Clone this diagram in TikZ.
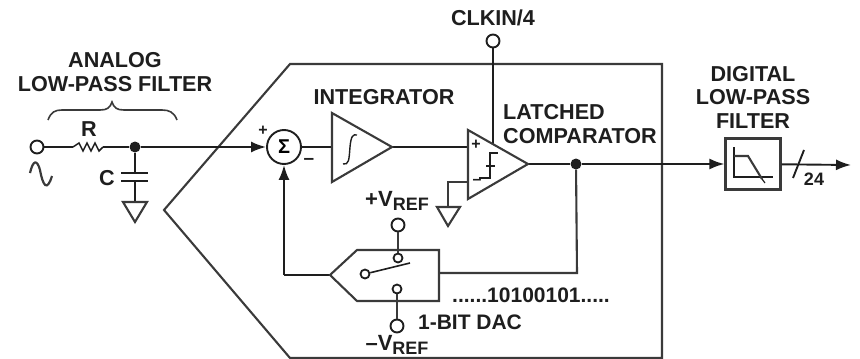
\documentclass[tikz,border=0pt]{standalone}
\usepackage{fontspec}
\setmainfont{Liberation Sans}
\usetikzlibrary{arrows.meta,decorations.pathreplacing}
\definecolor{ink}{HTML}{1E1E1E}
\definecolor{soft}{HTML}{3A3A3A}
\tikzset{
  wire/.style={draw=ink,line width=1.9pt},
  edgeline/.style={draw=soft,line width=2.1pt,line join=miter},
  sig/.style={wire,-{Latex[length=15pt,width=11pt]}},
  term/.style={circle,draw=ink,line width=1.9pt,fill=white,minimum size=13pt,inner sep=0pt},
  smallterm/.style={circle,draw=ink,line width=1.8pt,fill=white,minimum size=9pt,inner sep=0pt},
  dot/.style={circle,fill=ink,minimum size=11pt,inner sep=0pt},
  lab/.style={font=\fontsize{21.6}{23.5}\selectfont\bfseries,text=ink,inner sep=0pt,align=center},
  gnd/.style={edgeline,line join=miter},
}
\begin{document}
\begin{tikzpicture}[x=1pt,y=-1pt]
\useasboundingbox (0,0) rectangle (860,359);
% outer housing
\draw[edgeline] (358,358) -- (290,358) -- (164,210) -- (290,64) -- (662,64) -- (662,358) -- (290,358);
% coordinates
\coordinate (intL) at (332,147);
\coordinate (intR) at (392,147);
\coordinate (cmpP) at (468,147);
\coordinate (cmpN) at (468,182);
\coordinate (cmpR) at (528,164);
\coordinate (cmpTop) at (493,144);
\coordinate (dacR) at (439,273);
\coordinate (dacL) at (330,275);
\coordinate (fbCorner) at (284,275);
\coordinate (jnCorner) at (577,273);
\coordinate (resL) at (73,147);
\coordinate (resR) at (103,147);
\coordinate (capT) at (135,173);
\coordinate (capB) at (135,181);
\coordinate (gndC) at (135,202);
\coordinate (gndG) at (448,207);
\coordinate (gndCorner) at (448,182);
\coordinate (outEnd) at (851,165);
% terminals and junctions
\node[term] (vin) at (37,147) {};
\node[dot] (j1) at (135,147) {};
\node[circle,draw=ink,line width=1.9pt,fill=white,minimum size=34pt,inner sep=0pt,font=\fontsize{20}{20}\selectfont\bfseries] (sum) at (284,147) {Σ};
\node[term] (clk) at (493,41) {};
\node[dot] (j2) at (576,164) {};
\node[draw=soft,line width=2.2pt,minimum width=55pt,minimum height=51pt,inner sep=0pt] (dlpf) at (753,164) {};
\node[term] (vrefp) at (398,225) {};
\node[smallterm] (swp) at (398,258) {};
\node[smallterm] (pivot) at (365,274) {};
\node[smallterm] (swn) at (397,289) {};
\node[term] (vrefn) at (397,326) {};
% connectors
\draw[wire] (vin) -- (resL);
\draw[wire,line width=1.5pt] (resL) -- (79,143) -- (83,151) -- (87,143) -- (91,151) -- (95,143) -- (99,151) -- (resR);
\draw[wire] (resR) -- (j1);
\draw[sig] (j1) -- (sum);
\draw[wire] (j1) -- (capT);
\draw[wire] (capB) -- (gndC);
\draw[wire] (121,173) -- (148,173);
\draw[wire] (121,181) -- (148,181);
\draw[gnd] (gndC) ++(-12,0) -- ++(24,0) -- (135,222) -- cycle;
\draw[wire] (sum) -- (intL);
\draw[wire] (intR) -- (cmpP);
\draw[wire] (clk) -- (cmpTop);
\draw[wire] (cmpR) -- (j2);
\draw[sig] (j2) -- (dlpf);
\draw[sig] (dlpf) -- (outEnd);
\draw[edgeline] (j2) -- (jnCorner) -- (dacR);
\draw[wire] (dacL) -- (fbCorner);
\draw[sig] (fbCorner) -- (sum);
\draw[edgeline] (cmpN) -- (gndCorner) -- (gndG);
\draw[gnd] (gndG) ++(-11,0) -- ++(23,0) -- (448,226) -- cycle;
% integrator and comparator
\draw[edgeline,fill=white] (intL) ++(0,-34) -- (392,147) -- (332,182) -- cycle;
\draw[edgeline,fill=white] (468,130) -- (cmpR) -- (468,199) -- cycle;
\draw[wire,line width=1.4pt] (343,164) .. controls (349,165) and (349,160) .. (350,147) .. controls (351,136) and (353,134) .. (357,135);
\draw[wire,line width=1.5pt] (479,178) -- (490,178) -- (490,153) -- (498,153);
\draw[wire,line width=1.4pt] (486,166) -- (495,166);
\node[lab,font=\fontsize{16}{16}\selectfont\bfseries] (cplus) at (476,145) {+};
\node[lab,font=\fontsize{16}{16}\selectfont\bfseries] (cminus) at (477,182) {–};
% DAC
\draw[edgeline] (dacL) -- (357,250) -- (dacR |- 0,250) -- (dacR |- 0,301) -- (357,301) -- cycle;
\draw[edgeline] (vrefp) -- (swp);
\draw[edgeline] (swn) -- (vrefn);
\draw[wire,line width=1.6pt] (pivot) -- (410,263);
% filter icon
\draw[wire,line width=1.5pt] (734,147) -- (734,177) -- (773,177);
\draw[edgeline] (734,156) -- (748,156) -- (762,179);
\draw[wire,line width=1.2pt] (762,179) -- (765,183);
% output slash
\draw[wire] (793,178) -- (804,150);
% input sine
\draw[soft,line width=2.2pt] (30,173) .. controls (33,160) and (37,159) .. (40,170) .. controls (43,186) and (47,192) .. (52,176);
% brace
\draw[soft,line width=1.6pt] (48,120) .. controls (51,112) and (55,110) .. (62,110) -- (100,110) .. controls (107,110) and (110,108) .. (112,102) .. controls (114,108) and (117,110) .. (124,110) -- (162,110) .. controls (169,110) and (174,112) .. (177,120);
% labels
\node[lab] (tAnalog) at (115,72) {ANALOG\\LOW-PASS FILTER};
\node[lab] (tR) at (89,129) {R};
\node[lab] (tC) at (107,178) {C};
\node[lab,font=\fontsize{16}{16}\selectfont\bfseries] (splus) at (263,131) {+};
\node[lab,font=\fontsize{19}{19}\selectfont\bfseries] (sminus) at (309,161) {–};
\node[lab] (tInt) at (384,97) {INTEGRATOR};
\node[lab,align=left,anchor=west] (tLatch) at (503,124) {LATCHED\\COMPARATOR};
\node[lab] (tClk) at (493,18) {CLKIN/4};
\node[lab] (tDig) at (753,97) {DIGITAL\\LOW-PASS\\FILTER};
\node[lab,font=\fontsize{18}{18}\selectfont\bfseries] (t24) at (814,179) {24};
\node[lab,font=\fontsize{21}{21}\selectfont\bfseries] (tBits) at (531,295) {......10100101.....};
\node[lab,font=\fontsize{21}{21}\selectfont\bfseries] (tDac) at (470,322) {1-BIT DAC};
\node[lab,font=\fontsize{22}{22}\selectfont\bfseries] (tVp) at (397,201) {+V\raisebox{-4pt}{\fontsize{18}{18}\selectfont REF}};
\node[lab,font=\fontsize{22}{22}\selectfont\bfseries] (tVn) at (397,345) {–V\raisebox{-4pt}{\fontsize{18}{18}\selectfont REF}};
\end{tikzpicture}
\end{document}
